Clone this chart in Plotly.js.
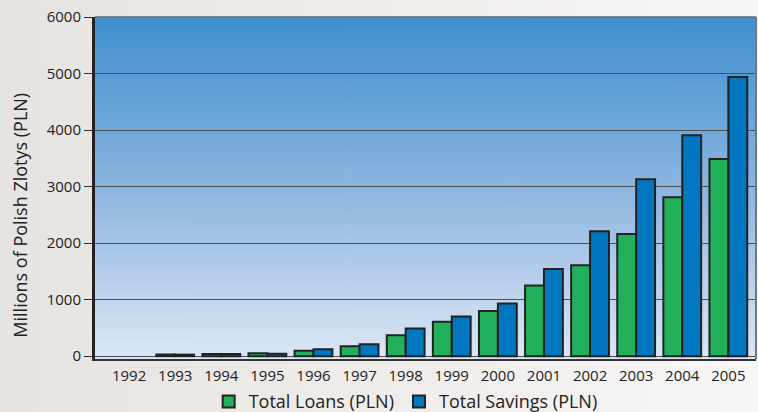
<!DOCTYPE html>
<html>
<head>
<meta charset="utf-8">
<script src="https://cdn.plot.ly/plotly-3.0.1.min.js"></script>
<style>
html,body{margin:0;padding:0;width:758px;height:412px;overflow:hidden;
background:linear-gradient(90deg,#e7e3e1 0%,#efecea 50%,#f8f7f6 100%);}
#chart{width:758px;height:412px;}
</style>
</head>
<body>
<div id="chart"></div>
<script>
const years = ["1992","1993","1994","1995","1996","1997","1998","1999","2000","2001","2002","2003","2004","2005"];
const totalLoans = [null, 30, 40, 50, 97, 175, 370, 610, 800, 1250, 1610, 2160, 2810, 3490];
const totalSavings = [null, 28, 38, 45, 122, 210, 490, 700, 930, 1540, 2210, 3130, 3910, 4940];
const yTicks = [0, 1000, 2000, 3000, 4000, 5000, 6000];
const yTitle = 'Millions of Polish Zlotys (PLN)';

// vertical gradient for plot background
const cv = document.createElement('canvas');
cv.width = 4; cv.height = 256;
const ctx = cv.getContext('2d');
const g = ctx.createLinearGradient(0, 0, 0, 256);
g.addColorStop(0, '#3f90cf');
g.addColorStop(0.25, '#64a2d7');
g.addColorStop(0.55, '#96b9e2');
g.addColorStop(1, '#dce8f5');
ctx.fillStyle = g; ctx.fillRect(0, 0, 4, 256);
const bgUrl = cv.toDataURL();

const font = '"Open Sans", "Noto Sans", sans-serif';
const outline = {color: '#222222', width: 2};

const data = [
  {type: 'bar', name: 'Total Loans (PLN)', x: years, y: totalLoans,
   marker: {color: '#22b05a', line: outline}},
  {type: 'bar', name: 'Total Savings (PLN)', x: years, y: totalSavings,
   marker: {color: '#0077c0', line: outline}}
];

const layout = {
  width: 758, height: 412,
  margin: {l: 95, r: 2, t: 17, b: 53, autoexpand: false},
  paper_bgcolor: 'rgba(0,0,0,0)',
  plot_bgcolor: 'rgba(0,0,0,0)',
  barmode: 'group', bargap: 0.18, bargroupgap: 0,
  showlegend: true,
  legend: {orientation: 'h', xref: 'paper', x: 0.47, xanchor: 'center',
           yref: 'container', y: 0.025, yanchor: 'middle',
           font: {family: font, size: 18, color: '#222'}, bgcolor: 'rgba(0,0,0,0)',
           itemwidth: 30, traceorder: 'normal'},
  font: {family: font, color: '#222'},
  xaxis: {type: 'category', range: [-0.74, 13.6], showgrid: false,
          showline: true, linecolor: '#333', linewidth: 2,
          ticks: 'outside', ticklen: 2, tickcolor: 'rgba(0,0,0,0)',
          tickfont: {family: font, size: 15, color: '#222'},
          fixedrange: true},
  yaxis: {range: [-50, 6000], tickvals: yTicks, ticktext: yTicks.map(String),
          showgrid: true, gridcolor: '#4a4f58', gridwidth: 1, zeroline: false,
          showline: true, linecolor: '#222', linewidth: 3,
          ticks: 'outside', ticklen: 8, tickcolor: '#333', tickwidth: 1,
          tickfont: {family: font, size: 15, color: '#222'},
          fixedrange: true},
  annotations: [{text: yTitle, xref: 'paper', yref: 'paper', x: -0.113, y: 0.42,
                 xanchor: 'center', yanchor: 'middle', textangle: -90, showarrow: false,
                 font: {family: font, size: 18, color: '#222'}}],
  images: [{source: bgUrl, xref: 'paper', yref: 'paper', x: 0, y: 1, sizex: 1, sizey: 1,
            sizing: 'stretch', layer: 'below', xanchor: 'left', yanchor: 'top'}],
  shapes: [
    {type: 'line', xref: 'paper', yref: 'paper', x0: 0, x1: 1, y0: 1, y1: 1, line: {color: '#666', width: 1.5}},
    {type: 'line', xref: 'paper', yref: 'paper', x0: 1, x1: 1, y0: 0, y1: 1, line: {color: '#777', width: 2}}
  ]
};

Plotly.newPlot('chart', data, layout, {displayModeBar: false, staticPlot: true});
</script>
</body>
</html>
